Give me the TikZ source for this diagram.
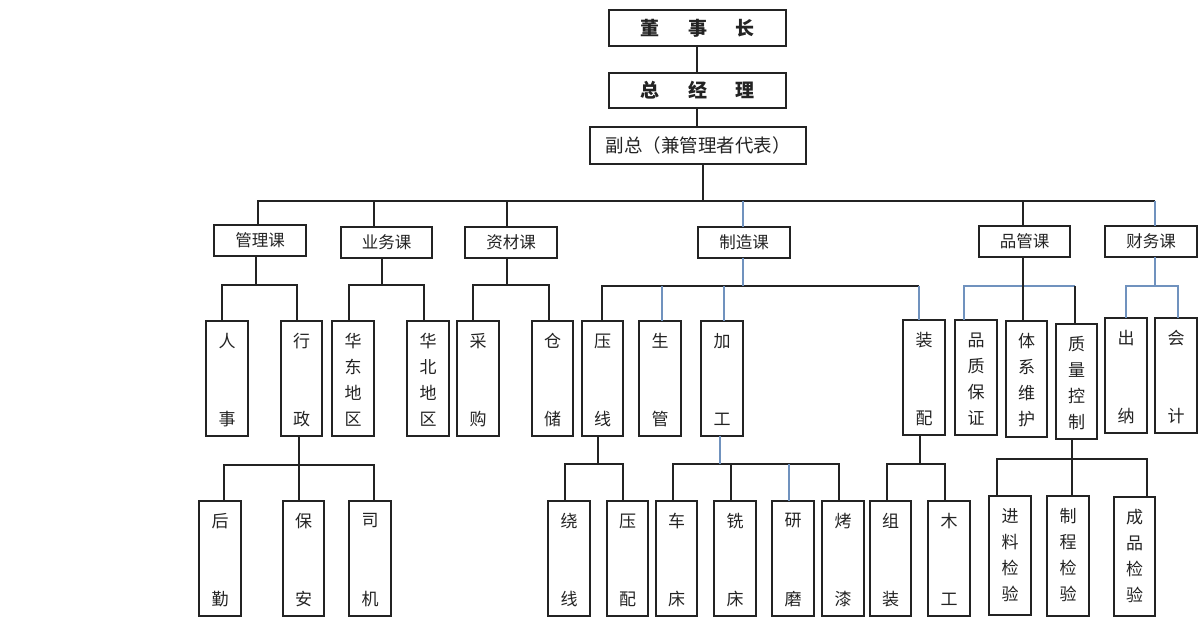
\documentclass[tikz,border=0pt]{standalone}
\usepackage{fontspec}
\setmainfont{Noto Sans CJK SC}
\usetikzlibrary{calc}
\definecolor{blueln}{RGB}{112,146,190}
\definecolor{ink}{RGB}{35,35,35}
\tikzset{
  ln/.style={line width=1.1pt, draw=ink},
  bl/.style={line width=1.1pt, draw=blueln},
  frame/.style={draw=ink, line width=1.2pt, rectangle, inner sep=0pt, outer sep=0pt, text=ink},
  vtxt/.style={inner sep=0pt, font=\fontsize{17}{17}\selectfont, text=ink},
  htxt/.style={font=\fontsize{16.5}{16.5}\selectfont},
}
% name, left, top, right, bottom, text
\newcommand\rbox[7][]{%
  \node[frame, #1, minimum width={(#5-#3)*1pt}, minimum height={(#6-#4)*1pt}] (#2) at ({(#3+#5)/2},{(#4+#6)/2}) {#7};}
% two-character vertical box
\newcommand\twob[7]{%
  \rbox{#1}{#2}{#3}{#4}{#5}{}%
  \node[vtxt] (#1-1) at ({(#2+#4)/2},{#3+20}) {#6};%
  \node[vtxt] (#1-2) at ({(#2+#4)/2},{#5-17}) {#7};}
% four-character vertical box
\newcommand\fourb[9]{%
  \rbox{#1}{#2}{#3}{#4}{#5}{}%
  \node[vtxt] (#1-1) at ({(#2+#4)/2},{#3+20}) {#6};%
  \node[vtxt] (#1-2) at ({(#2+#4)/2},{#3+46}) {#7};%
  \node[vtxt] (#1-3) at ({(#2+#4)/2},{#3+72}) {#8};%
  \node[vtxt] (#1-4) at ({(#2+#4)/2},{#3+98}) {#9};}
\begin{document}
\begin{tikzpicture}[x=1pt, y=-1pt]
\useasboundingbox (0,0) rectangle (1200,624);
\fill[white] (0,0) rectangle (1200,624);

% ---- top ----
\rbox[font=\fontsize{19}{19}\selectfont\bfseries]{dsz}{609}{10}{786}{46}{董\hspace{29pt}事\hspace{29pt}长}
\rbox[font=\fontsize{19}{19}\selectfont\bfseries]{zjl}{609}{73}{786}{108}{总\hspace{29pt}经\hspace{29pt}理}
\rbox[font=\fontsize{18.5}{18.5}\selectfont]{fz}{590}{127}{806}{164}{副总（兼管理者代表）}
\coordinate (topx) at (697,0);
\draw[ln] (topx |- dsz.south) -- (topx |- zjl.north);
\draw[ln] (topx |- zjl.south) -- (topx |- fz.north);

% ---- level 2 ----
\rbox[htxt]{glk}{214}{225}{306}{256}{管理课}
\rbox[htxt]{ywk}{341}{227}{432}{258}{业务课}
\rbox[htxt]{zck}{465}{227}{557}{258}{资材课}
\rbox[htxt]{zzk}{698}{227}{790}{258}{制造课}
\rbox[htxt]{pgk}{979}{226}{1070}{257}{品管课}
\rbox[htxt]{cwk}{1105}{226}{1197}{257}{财务课}

\coordinate (fzb) at (703,201);
\coordinate (busL) at (258,201);
\coordinate (busR) at (1155,201);
\coordinate (dyw) at (374,201);
\coordinate (dzc) at (507,201);
\coordinate (dzz) at (743,201);
\coordinate (dpg) at (1023,201);
\draw[ln] (fzb |- fz.south) -- (fzb);
\draw[ln] (busL |- glk.north) -- (busL) -- (busR);
\draw[ln] (dyw) -- (dyw |- ywk.north);
\draw[ln] (dzc) -- (dzc |- zck.north);
\draw[bl] (dzz) -- (dzz |- zzk.north);
\draw[ln] (dpg) -- (dpg |- pgk.north);
\draw[bl] (busR) -- (busR |- cwk.north);

% ---- level 3 ----
\twob{rs}{206}{321}{248}{436}{人}{事}
\twob{xz}{281}{321}{322}{436}{行}{政}
\fourb{hd}{332}{321}{374}{436}{华}{东}{地}{区}
\fourb{hbq}{407}{321}{449}{436}{华}{北}{地}{区}
\twob{cg}{457}{321}{499}{436}{采}{购}
\twob{cc}{532}{321}{573}{436}{仓}{储}
\twob{yx}{582}{321}{623}{436}{压}{线}
\twob{sg}{639}{321}{681}{436}{生}{管}
\twob{jg}{701}{321}{743}{436}{加}{工}
\twob{zp}{903}{320}{945}{435}{装}{配}
\fourb{pz}{955}{320}{997}{435}{品}{质}{保}{证}
\fourb{tx}{1006}{321}{1047}{437}{体}{系}{维}{护}
\fourb{zl}{1056}{324}{1097}{439}{质}{量}{控}{制}
\twob{cn}{1105}{318}{1147}{433}{出}{纳}
\twob{kj}{1155}{318}{1197}{433}{会}{计}

% 管理课
\coordinate (glks) at (256,285);
\coordinate (rsd) at (222,285);
\coordinate (xzd) at (297,285);
\draw[ln] (glks |- glk.south) -- (glks);
\draw[ln] (rsd |- rs.north) -- (rsd) -- (xzd) -- (xzd |- xz.north);
% 业务课
\coordinate (ywks) at (382,285);
\coordinate (hdd) at (349,285);
\coordinate (hbd) at (424,285);
\draw[ln] (ywks |- ywk.south) -- (ywks);
\draw[ln] (hdd |- hd.north) -- (hdd) -- (hbd) -- (hbd |- hbq.north);
% 资材课
\coordinate (zcks) at (507,285);
\coordinate (cgd) at (473,285);
\coordinate (ccd) at (549,285);
\draw[ln] (zcks |- zck.south) -- (zcks);
\draw[ln] (cgd |- cg.north) -- (cgd) -- (ccd) -- (ccd |- cc.north);
% 制造课
\coordinate (zzks) at (743,286);
\coordinate (yxd) at (602,286);
\coordinate (sgd) at (662,286);
\coordinate (jgd) at (724,286);
\coordinate (zpd) at (919,286);
\draw[ln] (yxd |- yx.north) -- (yxd) -- (zpd);
\draw[bl] (zzks |- zzk.south) -- (zzks);
\draw[bl] (sgd) -- (sgd |- sg.north);
\draw[bl] (jgd) -- (jgd |- jg.north);
\draw[bl] (zpd) -- (zpd |- zp.north);
% 品管课
\coordinate (pzd) at (964,286);
\coordinate (zld) at (1075,286);
\coordinate (pgks) at (1023,286);
\draw[bl] (pzd |- pz.north) -- (pzd) -- (zld);
\draw[ln] (zld) -- (zld |- zl.north);
\draw[ln] (pgks |- pgk.south) -- (pgks |- tx.north);
% 财务课
\coordinate (cwks) at (1155,286);
\coordinate (cnd) at (1126,286);
\coordinate (kjd) at (1178,286);
\draw[bl] (cwks |- cwk.south) -- (cwks);
\draw[bl] (cnd |- cn.north) -- (cnd) -- (kjd) -- (kjd |- kj.north);

% ---- level 4 ----
\twob{hq}{199}{501}{241}{616}{后}{勤}
\twob{ba}{283}{501}{324}{616}{保}{安}
\twob{sj}{349}{501}{391}{616}{司}{机}
\twob{rx}{548}{501}{590}{616}{绕}{线}
\twob{yp}{607}{501}{648}{616}{压}{配}
\twob{ccx}{656}{501}{697}{616}{车}{床}
\twob{xc}{714}{501}{756}{616}{铣}{床}
\twob{ym}{772}{501}{814}{616}{研}{磨}
\twob{kq}{822}{501}{864}{616}{烤}{漆}
\twob{zzh}{870}{501}{911}{616}{组}{装}
\twob{mg}{928}{501}{970}{616}{木}{工}
\fourb{jl}{989}{496}{1031}{615}{进}{料}{检}{验}
\fourb{zcj}{1047}{496}{1089}{616}{制}{程}{检}{验}
\fourb{cp}{1114}{497}{1155}{616}{成}{品}{检}{验}

% 行政
\coordinate (xzs) at (299,465);
\coordinate (hqd) at (224,465);
\coordinate (sjd) at (374,465);
\draw[ln] (hqd |- hq.north) -- (hqd) -- (sjd) -- (sjd |- sj.north);
\draw[ln] (xzs |- xz.south) -- (xzs |- ba.north);
% 压线
\coordinate (yxs) at (598,464);
\coordinate (rxd) at (565,464);
\coordinate (ypd) at (623,464);
\draw[ln] (yxs |- yx.south) -- (yxs);
\draw[ln] (rxd |- rx.north) -- (rxd) -- (ypd) -- (ypd |- yp.north);
% 加工
\coordinate (jgs) at (720,464);
\coordinate (ccd2) at (673,464);
\coordinate (xcd) at (731,464);
\coordinate (ymd) at (789,464);
\coordinate (kqd) at (839,464);
\draw[ln] (ccd2 |- ccx.north) -- (ccd2) -- (kqd) -- (kqd |- kq.north);
\draw[ln] (xcd) -- (xcd |- xc.north);
\draw[bl] (ymd) -- (ymd |- ym.north);
\draw[bl] (jgs |- jg.south) -- (jgs);
% 装配
\coordinate (zps) at (920,464);
\coordinate (zzd) at (887,464);
\coordinate (mgd) at (945,464);
\draw[ln] (zps |- zp.south) -- (zps);
\draw[ln] (zzd |- zzh.north) -- (zzd) -- (mgd) -- (mgd |- mg.north);
% 质量控制
\coordinate (zls) at (1072,459);
\coordinate (jld) at (997,459);
\coordinate (cpd) at (1147,459);
\draw[ln] (jld |- jl.north) -- (jld) -- (cpd) -- (cpd |- cp.north);
\draw[ln] (zls |- zl.south) -- (zls |- zcj.north);
\end{tikzpicture}
\end{document}
